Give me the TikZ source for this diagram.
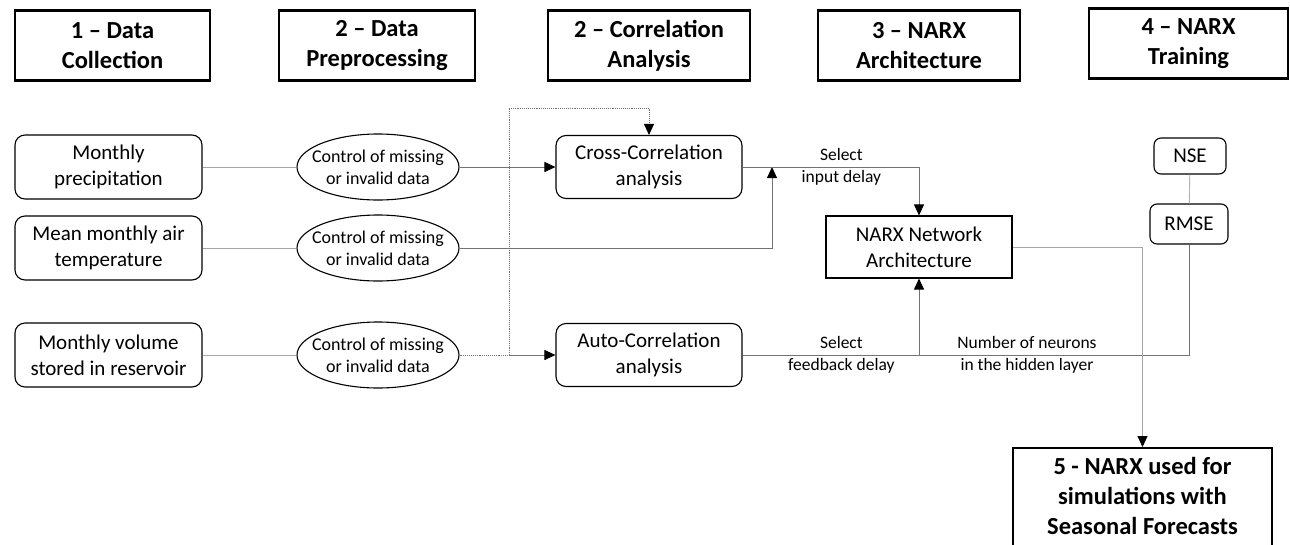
\documentclass[tikz,border=0pt]{standalone}
\usepackage{fontspec}
\setmainfont{Carlito}
\usetikzlibrary{arrows.meta,shapes.geometric}

\tikzset{
  stage/.style={draw,line width=2.4pt,minimum width=196pt,minimum height=70pt,
    align=center,font=\fontsize{24.5}{30}\selectfont\bfseries},
  source/.style={draw,rounded corners=10pt,line width=1.1pt,minimum width=187pt,
    minimum height=64pt,align=center,font=\fontsize{21}{26}\selectfont},
  check/.style={draw,ellipse,line width=1.1pt,minimum width=162pt,minimum height=66pt,
    inner xsep=-10pt,inner ysep=0pt,align=center,font=\fontsize{18}{22}\selectfont},
  metric/.style={draw,rounded corners=7pt,line width=1.1pt,align=center,
    font=\fontsize{21}{24}\selectfont},
  link/.style={draw=black!55,line width=0.9pt},
  tip/.style={-{Triangle[length=11pt,width=10pt,color=black]}},
  lbl/.style={align=center,font=\fontsize{17.5}{22}\selectfont},
}

\begin{document}
\begin{tikzpicture}[x=1pt,y=-1pt]
  \useasboundingbox (0,0) rectangle (1290,544);

  % stage headers
  \node[stage,minimum width=195pt] (collect) at (112.5,45.5) {1 -- Data\\Collection};
  \node[stage] (prep) at (377,45.5) {2 -- Data\\Preprocessing};
  \node[stage,minimum width=202pt] (corr) at (649,45.5) {2 -- Correlation\\Analysis};
  \node[stage,minimum width=202pt] (arch) at (919,45.5) {3 -- NARX\\Architecture};
  \node[stage,minimum width=199pt] (train) at (1188.5,43.5) {4 -- NARX\\Training};

  % data sources
  \node[source] (precip) at (108.5,167) {Monthly\\precipitation};
  \node[source] (temp) at (108.5,248) {Mean monthly air\\temperature};
  \node[source] (volume) at (108.5,355) {Monthly volume\\stored in reservoir};

  \node[check] (chk1) at (378,167) {Control of missing\\or invalid data};
  \node[check] (chk2) at (378,248) {Control of missing\\or invalid data};
  \node[check] (chk3) at (378,355) {Control of missing\\or invalid data};

  \node[source,minimum width=186pt,minimum height=63pt] (cross) at (649,167) {Cross-Correlation\\analysis};
  \node[source,minimum width=186pt,minimum height=63pt] (auto) at (649,355) {Auto-Correlation\\analysis};

  \node[draw,line width=1.1pt,minimum width=186pt,minimum height=62pt,align=center,
    font=\fontsize{21}{26}\selectfont] (narx) at (919,247) {NARX Network\\Architecture};

  \node[metric,minimum width=72pt,minimum height=36pt] (nse) at (1190,156) {NSE};
  \node[metric,minimum width=78pt,minimum height=40pt] (rmse) at (1189,224) {RMSE};

  \node[stage,anchor=north,minimum width=259pt,inner ysep=9pt]
    (final) at (1142.5,447) {5 - NARX used for\\simulations with\\Seasonal Forecasts\\[18pt]};

  \coordinate (join1) at (772,167);
  \coordinate (split) at (509,355);
  \coordinate (loop) at (509,108);

  \draw[link,draw=black!35] (precip) -- (chk1);
  \draw[link,draw=black!35] (temp) -- (chk2);
  \draw[link,draw=black!35] (volume) -- (chk3);
  \draw[link,tip] (chk1) -- (cross);
  \draw[link,tip] (chk2.east) -| (join1);
  \draw[link,densely dotted,tip] (chk3.east) -- (split) -- (loop) -| (cross.north);
  \draw[link,tip] (split) -- (auto.west);

  \draw[link,tip] (cross.east) -| (narx.north) node[lbl,pos=0.28] {Select\\input delay};
  \draw[link,tip] (auto.east) -| (narx.south) node[lbl,pos=0.28] {Select\\feedback delay};
  \draw[link] (rmse.south) |- (narx.south |- auto.east)
    node[lbl,pos=0.8] {Number of neurons\\in the hidden layer};
  \draw[link,draw=black!30] (nse) -- (rmse);
  \draw[link,draw=black!35,tip] (narx.east) -| (final.north);
\end{tikzpicture}
\end{document}
